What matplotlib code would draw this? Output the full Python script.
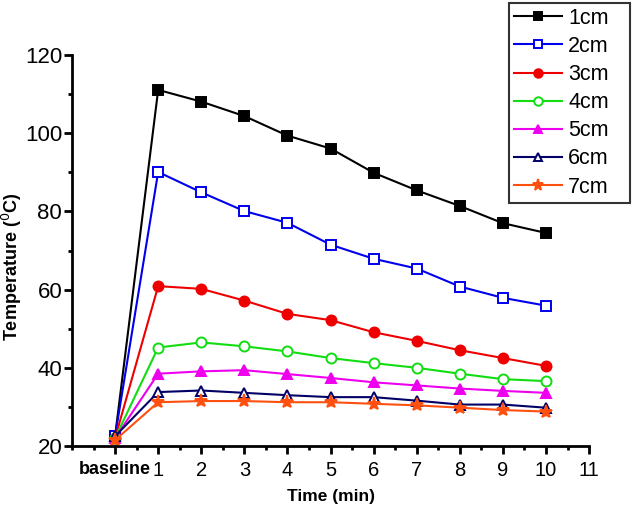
import matplotlib
matplotlib.use("Agg")
import matplotlib.pyplot as plt
import matplotlib.transforms as mtransforms
from matplotlib.ticker import MultipleLocator

plt.rcParams['font.family'] = ['Liberation Sans', 'DejaVu Sans']

# Data
times = [0, 1, 2, 3, 4, 5, 6, 7, 8, 9, 10]
tick_labels = ["baseline", "1", "2", "3", "4", "5", "6", "7", "8", "9", "10", "11"]
labels = ["1cm", "2cm", "3cm", "4cm", "5cm", "6cm", "7cm"]

t_1cm = [22.5, 111.1, 108.1, 104.4, 99.4, 96.1, 89.9, 85.4, 81.4, 77.0, 74.5]
t_2cm = [22.5, 90.1, 84.9, 80.1, 77.1, 71.5, 67.9, 65.4, 60.8, 57.9, 55.9]
t_3cm = [22.0, 60.9, 60.2, 57.2, 53.8, 52.2, 49.1, 46.9, 44.5, 42.5, 40.5]
t_4cm = [22.0, 45.2, 46.5, 45.5, 44.2, 42.5, 41.2, 40.0, 38.5, 37.1, 36.6]
t_5cm = [22.0, 38.5, 39.1, 39.4, 38.4, 37.4, 36.3, 35.5, 34.7, 34.1, 33.6]
t_6cm = [22.5, 33.8, 34.2, 33.6, 33.0, 32.5, 32.5, 31.6, 30.6, 30.6, 29.8]
t_7cm = [21.5, 31.2, 31.5, 31.5, 31.2, 31.2, 30.8, 30.4, 29.8, 29.2, 28.8]

series = [t_1cm, t_2cm, t_3cm, t_4cm, t_5cm, t_6cm, t_7cm]
colors = ["black", "#0000ee", "#ee0000", "#11dd11", "#ee00ee", "#000066", "#ff5010"]
markers = ["s", "s", "o", "o", "^", "^", "*"]
filled = [True, False, True, False, True, False, True]

fig = plt.figure(figsize=(6.33, 5.07), dpi=100)
ax = fig.add_axes([0.1137, 0.1203, 0.817, 0.771])

for y, lab, c, m, f in zip(series, labels, colors, markers, filled):
    ms = 9.5 if m == "*" else 7.2
    ax.plot(times, y, color=c, marker=m, markersize=ms, linewidth=1.5,
            markerfacecolor=c if f else "white", markeredgecolor=c,
            markeredgewidth=1.4, label=lab)

ax.set_xlim(-1, 11)
ax.set_ylim(20, 120)
ax.set_xticks(range(0, 12))
ax.set_xticklabels(tick_labels)
ax.xaxis.set_minor_locator(MultipleLocator(0.5))
ax.yaxis.set_major_locator(MultipleLocator(20))
ax.yaxis.set_minor_locator(MultipleLocator(10))

# "baseline" sits a little left of its tick in the original
shift = mtransforms.ScaledTranslation(-10 / 100, 0, fig.dpi_scale_trans)
for lbl in ax.get_xticklabels():
    if lbl.get_text() == "baseline":
        lbl.set_fontweight("bold")
        lbl.set_fontsize(13)
        lbl.set_transform(lbl.get_transform() + shift)
    else:
        lbl.set_fontsize(14.5)
for lbl in ax.get_yticklabels():
    lbl.set_fontsize(16)

ax.spines["top"].set_visible(False)
ax.spines["right"].set_visible(False)
ax.spines["left"].set_linewidth(2)
ax.spines["bottom"].set_linewidth(2)
ax.tick_params(which="major", direction="out", length=6, width=2)
ax.tick_params(axis="y", which="major", pad=1)
ax.tick_params(axis="x", which="major", pad=5)
ax.tick_params(which="minor", direction="out", length=3, width=2)

ax.set_xlabel("Time (min)", fontweight="bold", fontsize=12.5, labelpad=6)
ax.set_ylabel("Temperature ($^0$C)", fontweight="bold", fontsize=13)
ax.yaxis.set_label_coords(-0.092, 0.46)

leg = fig.legend(loc="upper right", bbox_to_anchor=(509 / 633, 0.6, 121 / 633, 0.395),
                 mode="expand", fontsize=15.5,
                 frameon=True, fancybox=False, edgecolor="black",
                 handlelength=2.2, labelspacing=0.33, borderpad=0.25,
                 handletextpad=0.3, borderaxespad=0.0, markerscale=0.85)
leg.get_frame().set_linewidth(1.5)

fig.savefig("out.png", dpi=100)
